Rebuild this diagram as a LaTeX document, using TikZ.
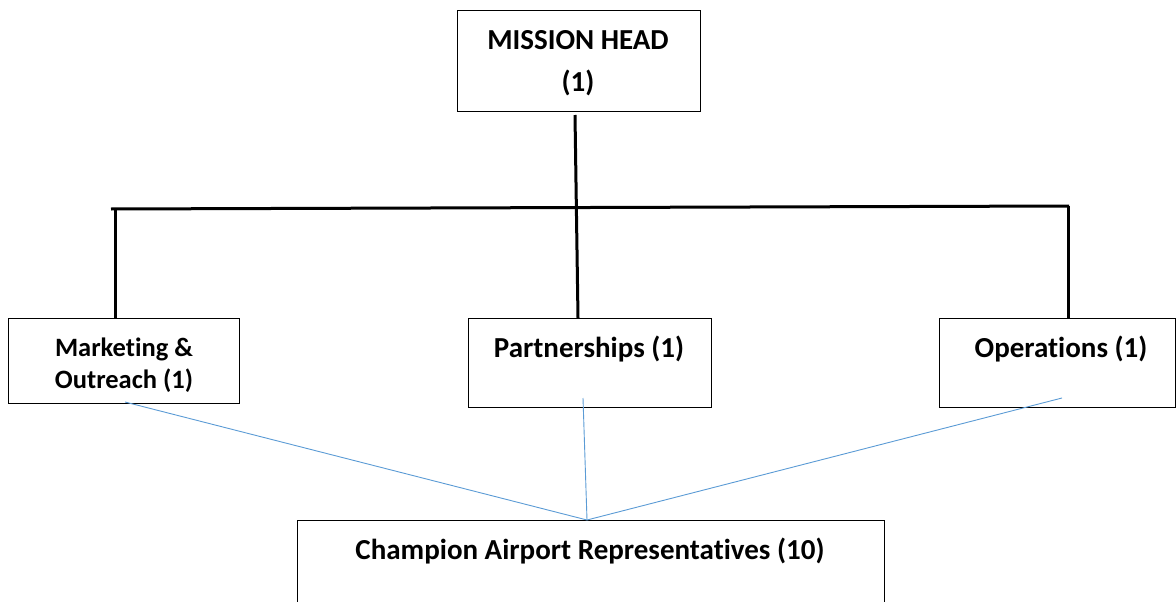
\documentclass[tikz,border=0pt]{standalone}
\usepackage{fontspec}
\setmainfont{Carlito}[Ligatures={NoCommon,NoRare}]
\definecolor{linkblue}{HTML}{5B9BD5}
\begin{document}
\begin{tikzpicture}[x=1pt,y=-1pt,
  box/.style={draw=black,line width=1.3pt,inner sep=0pt,anchor=north west},
  lbl/.style={font=\bfseries\fontsize{29}{34}\selectfont,inner sep=0pt,anchor=base},
  smalllbl/.style={lbl,font=\bfseries\fontsize{26.5}{31}\selectfont},
  trunk/.style={line width=3pt,black},
  feed/.style={line width=0.9pt,linkblue}]
\useasboundingbox (0,0) rectangle (1176,602);
% boxes
\node[box,minimum width=243pt,minimum height=101pt] (mh) at (457,10) {};
\node[box,minimum width=231pt,minimum height=85pt] (mk) at (8,318) {};
\node[box,minimum width=243pt,minimum height=89pt] (pt) at (468,318) {};
\node[box,minimum width=236pt,minimum height=89pt] (op) at (939,318) {};
\node[box,minimum width=587pt,minimum height=100pt] (ch) at (297,520) {};
% labels
\node[lbl] (t1) at (578,50) {MISSION HEAD};
\node[lbl] (t2) at (578,92) {(1)};
\node[smalllbl] (t3) at (124,356) {Marketing \&};
\node[smalllbl] (t4) at (124,388) {Outreach (1)};
\node[lbl] (t5) at (589,357) {Partnerships (1)};
\node[lbl] (t6) at (1061,357) {Operations (1)};
\node[lbl] (t7) at (590,559) {Champion Airport Representatives (10)};
% coordinates of the bus
\coordinate (top) at (575,115);
\coordinate (busL) at (111,209);
\coordinate (busR) at (1069,206);
\coordinate (mkT) at (115,209);
\coordinate (opT) at (1068,206);
\coordinate (hub) at (587,520);
\coordinate (mkB) at (125,402);
\coordinate (ptB) at (583,398);
\coordinate (opB) at (1062,398);
% black connectors
\draw[trunk] (top) -- (pt.north -| 578,0);
\draw[trunk] (busL) -- (busR);
\draw[trunk] (mkT) -- (mk.north -| mkT);
\draw[trunk] (opT) -- (op.north -| opT);
% blue connectors
\draw[feed] (mkB) -- (hub);
\draw[feed] (ptB) -- (hub);
\draw[feed] (opB) -- (hub);
\end{tikzpicture}
\end{document}
